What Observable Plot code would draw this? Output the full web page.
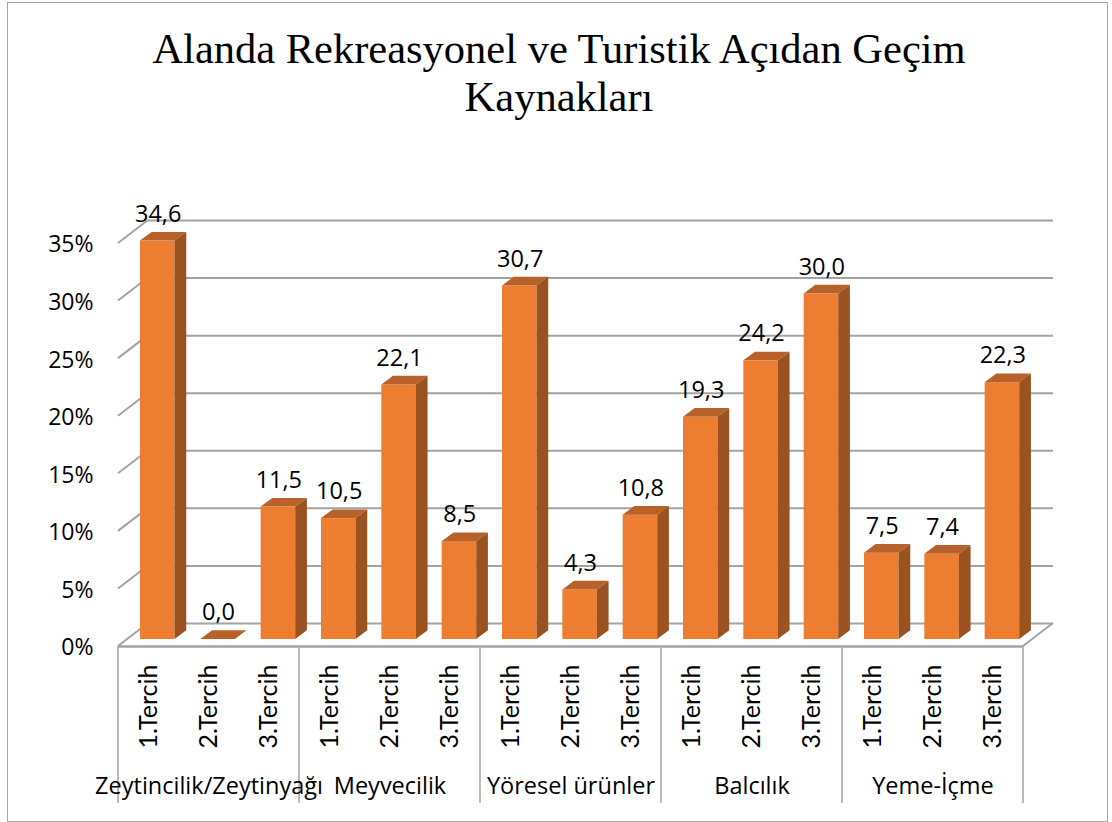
<!DOCTYPE html>
<html>
<head>
<meta charset="utf-8">
<script src="https://cdn.jsdelivr.net/npm/d3@7"></script>
<script src="https://cdn.jsdelivr.net/npm/@observablehq/plot@0.6"></script>
<style>
html,body{margin:0;padding:0;background:#fff;}
#page{position:relative;width:1112px;height:822px;overflow:hidden;}
#frame{position:absolute;left:7px;top:2px;width:1099px;height:818px;border:1.5px solid #a6a6a6;box-sizing:content-box;pointer-events:none;}
#title{position:absolute;left:7px;width:1104px;top:25px;text-align:center;font-family:"Liberation Serif",serif;font-size:42.5px;line-height:48px;color:#000;}
#chart{position:absolute;left:0;top:150px;}
svg{display:block;}
</style>
</head>
<body>
<div id="page">
<div id="frame"></div>
<div id="title">Alanda Rekreasyonel ve Turistik Açıdan Geçim<br>Kaynakları</div>
<div id="chart"></div>
</div>
<script>
const groups = ["Zeytincilik/Zeytinyağı","Meyvecilik","Yöresel ürünler","Balcılık","Yeme-İçme"];
const prefs = ["1.Tercih","2.Tercih","3.Tercih"];
const zeytin = [34.6,0.0,11.5];
const meyve = [10.5,22.1,8.5];
const yoresel = [30.7,4.3,10.8];
const balcilik = [19.3,24.2,30.0];
const yeme = [7.5,7.4,22.3];
const series = [zeytin,meyve,yoresel,balcilik,yeme];
const yTicks = [0,5,10,15,20,25,30,35];

const rows = groups.flatMap((g,gi)=>prefs.map((p,pi)=>({key:gi*3+pi,group:g,gi,pi,pref:p,value:series[gi][pi]})));
const FONT = '"Open Sans",sans-serif';
const GRID = "#a3a3a3";
const FLOOR_DY = 23, WALL_DX = 30;   // oblique wall depth
const BAR_DY = 16, DEPTH_X = 11.7, DEPTH_Y = 8.7; // bar placement and 3D depth

// Draws top and side faces next to each bar's front rectangle
function faces(index, scales, values, dimensions, context, next){
  const g = next(index, scales, values, dimensions, context);
  const rects = Array.from(g.querySelectorAll("rect"));
  for(const r of rects){
    const x=+r.getAttribute("x"), y=+r.getAttribute("y"), w=+r.getAttribute("width"), h=+r.getAttribute("height");
    const mk=(pts,fill)=>{
      const p=document.createElementNS("http://www.w3.org/2000/svg","polygon");
      p.setAttribute("points",pts.map(q=>q.join(",")).join(" "));
      p.setAttribute("fill",fill);
      g.appendChild(p);
    };
    mk([[x,y],[x+DEPTH_X,y-DEPTH_Y],[x+w+DEPTH_X,y-DEPTH_Y],[x+w,y]],"#b8622a");
    if(h>0) mk([[x+w,y],[x+w+DEPTH_X,y-DEPTH_Y],[x+w+DEPTH_X,y+h-DEPTH_Y],[x+w,y+h]],"#9a5220");
  }
  return g;
}

// Oblique tick lines of the side wall, floor right edge, and group separators
function frameLines(index, {x, y}){
  const svg = d3.create("svg:g").attr("stroke",GRID).attr("fill","none");
  const left = x(0), step = x.step(), right = left + step*rows.length;
  for(const t of yTicks){
    svg.append("line").attr("stroke-width",2)
      .attr("x1",left).attr("y1",y(t)+FLOOR_DY).attr("x2",left+WALL_DX).attr("y2",y(t));
  }
  svg.append("line").attr("stroke-width",2)
    .attr("x1",right).attr("y1",y(0)+FLOOR_DY).attr("x2",right+WALL_DX).attr("y2",y(0));
  for(let i=0;i<=groups.length;i++){
    const px = left + step*i*prefs.length;
    svg.append("line").attr("stroke-width",1.5)
      .attr("x1",px).attr("y1",y(0)+FLOOR_DY).attr("x2",px).attr("y2",y(0)+180);
  }
  return svg.node();
}

const plot = Plot.plot({
  width:1112, height:672,
  marginLeft:118, marginRight:89, marginTop:70, marginBottom:199,
  style:{fontFamily:FONT, background:"transparent", color:"#000", overflow:"visible"},
  x:{type:"band", domain:d3.range(rows.length), padding:0, round:false, axis:null},
  y:{domain:[0,35], axis:null},
  marks:[
    Plot.ruleY(yTicks,{dx:WALL_DX, stroke:GRID, strokeWidth:2}),
    frameLines,
    Plot.ruleY([0],{dy:FLOOR_DY, stroke:GRID, strokeWidth:2.5}),
    Plot.axisY({ticks:yTicks, tickFormat:d=>d+"%", tickSize:0, tickPadding:25, dy:FLOOR_DY+1.5, label:null, fontSize:23, fill:"#000"}),
    Plot.barY(rows,{x:"key", y:"value", fill:"#ed7d31", insetLeft:22, insetRight:3.8, dy:BAR_DY, render:faces}),
    Plot.text(rows,{x:"key", y:"value", text:d=>d.value.toFixed(1).replace(".",","), dx:9.5, dy:BAR_DY-27, fontSize:23.5, fill:"#000"}),
    Plot.text(rows,{x:"key", y:()=>0, text:"pref", rotate:-90, dy:83, fontSize:25, fontFamily:"Lato", fill:"#000"}),
    Plot.text(rows.filter(d=>d.pi===1),{x:"key", y:()=>0, text:"group", dy:163, fontSize:23.5, fill:"#000"})
  ]
});
document.getElementById("chart").appendChild(plot);
</script>
</body>
</html>
